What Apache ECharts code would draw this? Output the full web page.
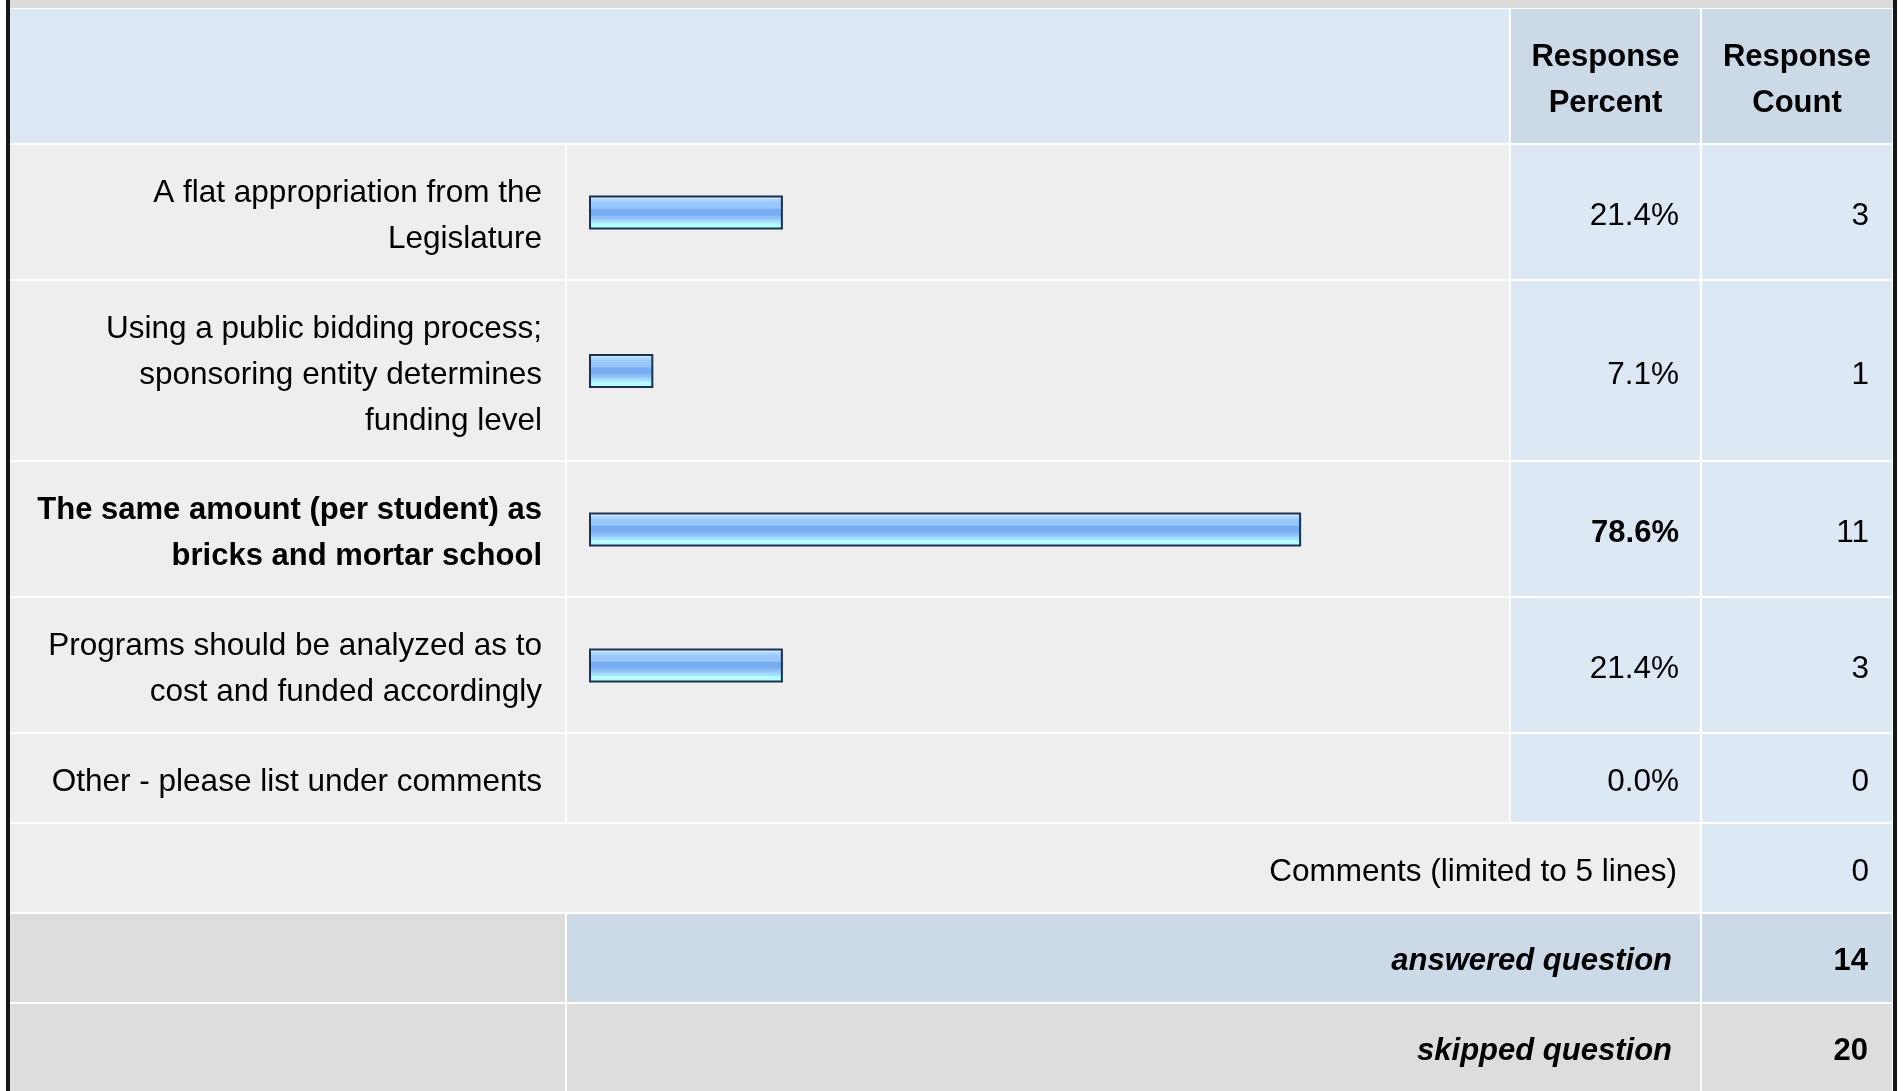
<!DOCTYPE html>
<html><head><meta charset="utf-8">
<script src="https://cdn.jsdelivr.net/npm/echarts@6/dist/echarts.min.js"></script>
<style>html,body{margin:0;padding:0;background:#fff;overflow:hidden}#c{width:1903px;height:1091px}</style>
</head><body><div id="c"></div>
<script>
// ---------- data ----------
const categories = [
  'A flat appropriation from the\nLegislature',
  'Using a public bidding process;\nsponsoring entity determines\nfunding level',
  'The same amount (per student) as\nbricks and mortar school',
  'Programs should be analyzed as to\ncost and funded accordingly',
  'Other - please list under comments'
];
const responsePercent = [21.4, 7.1, 78.6, 21.4, 0.0];
const responseCount = [3, 1, 11, 3, 0];
const highlightRow = 2;
const headerLabels = ['Response\nPercent', 'Response\nCount'];
const commentsLabel = 'Comments (limited to 5 lines)';
const commentsCount = 0;
const summaryLabels = ['answered question', 'skipped question'];
const summaryCounts = [14, 20];

// ---------- layout ----------
const FONT = '"Liberation Sans", Arial, Helvetica, sans-serif';
const FS = 31.5, FSB = 31, LH = 46;
const TY = 4.5; // text baseline nudge
const COL = {labelL: 10, labelR: 565, barL: 567, barR: 1509, pctL: 1511, pctR: 1700, cntL: 1702, cntR: 1892};
const PLOT_L = 589, PLOT_R = 1495;
const C = {head: '#dde8f5', headDark: '#ccd9e6', cell: '#eeeeee', cellBlue: '#dde8f5', grey: '#dddddd', text: '#000000'};
const ROW_H = {1: 88, 2: 134, 3: 179};
const GAP = 2;
const W = 1903, H = 1091;

const g = [];
function rect(x0, y0, x1, y1, fill) {
  g.push({type: 'rect', z: -10, silent: true, shape: {x: x0, y: y0, width: x1 - x0, height: y1 - y0}, style: {fill: fill}});
}
function text(str, x, y, align, opts) {
  g.push({type: 'text', z: 100, silent: true, style: Object.assign({
    text: str, x: x, y: y, align: align, textAlign: align, verticalAlign: 'middle', textVerticalAlign: 'middle',
    fill: C.text, fontFamily: FONT, fontSize: FS, lineHeight: LH
  }, opts || {})});
}

// borders + top band
rect(6, 0, 10, H, '#161616');
rect(1893, 0, 1897, H, '#161616');
rect(10, 0, 1893, 8, '#dcdcdc');

// header
const headTop = 9, headBot = 143;
rect(10, headTop, COL.barR, headBot, C.head);
rect(COL.pctL, headTop, COL.pctR, headBot, C.headDark);
rect(COL.cntL, headTop, COL.cntR, headBot, C.headDark);
const hc = (headTop + headBot) / 2 + TY;
text(headerLabels[0], (COL.pctL + COL.pctR) / 2, hc, 'center', {fontWeight: 'bold', fontSize: FSB});
text(headerLabels[1], (COL.cntL + COL.cntR) / 2, hc, 'center', {fontWeight: 'bold', fontSize: FSB});

const barGradient = new echarts.graphic.LinearGradient(0, 0, 0, 1, [
  {offset: 0, color: '#cfe7ff'}, {offset: 0.09, color: '#cfe7ff'},
  {offset: 0.1, color: '#b2d8ff'}, {offset: 0.18, color: '#a5d0ff'},
  {offset: 0.2, color: '#99c8fe'}, {offset: 0.38, color: '#97c6fd'},
  {offset: 0.41, color: '#76abf1'}, {offset: 0.58, color: '#78adf2'},
  {offset: 0.61, color: '#8bbdf7'}, {offset: 0.7, color: '#97c9fb'},
  {offset: 0.72, color: '#a3d8ff'}, {offset: 0.8, color: '#a9e3ff'},
  {offset: 0.82, color: '#b3fcff'}, {offset: 1, color: '#b3fdff'}
]);

const grids = [], xAxes = [], yAxes = [], series = [];
let y = 145;
categories.forEach((cat, i) => {
  const lines = cat.split('\n').length;
  const h = ROW_H[lines];
  const top = y, bot = y + h;
  rect(COL.labelL, top, COL.labelR, bot, C.cell);
  rect(COL.barL, top, COL.barR, bot, C.cell);
  rect(COL.pctL, top, COL.pctR, bot, C.cellBlue);
  rect(COL.cntL, top, COL.cntR, bot, C.cellBlue);
  const mid = (top + bot) / 2 + TY;
  const bold = i === highlightRow;
  const boldStyle = bold ? {fontWeight: 'bold', fontSize: FSB} : {};
  text(cat, 542, mid, 'right', boldStyle);
  text(responsePercent[i].toFixed(1) + '%', 1679, mid, 'right', boldStyle);
  text(String(responseCount[i]), 1869, mid, 'right');

  grids.push({left: PLOT_L, width: PLOT_R - PLOT_L, top: top + 0.5, height: h, outerBoundsMode: 'none', containLabel: false});
  xAxes.push({type: 'value', gridIndex: i, min: 0, max: 100, show: false});
  yAxes.push({
    type: 'category', gridIndex: i, data: [cat],
    axisLine: {show: false}, axisTick: {show: false}, splitLine: {show: false},
    axisLabel: {show: false}
  });
  const v = responsePercent[i];
  series.push({
    type: 'bar', xAxisIndex: i, yAxisIndex: i, barWidth: 34, silent: true, animation: false,
    itemStyle: {color: barGradient, borderColor: '#1c3152', borderWidth: 2},
    data: [v > 0 ? {value: v} : {value: v, itemStyle: {borderWidth: 0, opacity: 0}}]
  });
  y = bot + GAP;
});

// comments row
{
  const top = y, bot = y + 88;
  rect(COL.labelL, top, COL.pctR, bot, C.cell);
  rect(COL.cntL, top, COL.cntR, bot, C.cellBlue);
  const mid = (top + bot) / 2 + TY;
  text(commentsLabel, 1677, mid, 'right');
  text(String(commentsCount), 1869, mid, 'right');
  y = bot + GAP;
}
// summary rows
summaryLabels.forEach((lab, k) => {
  const top = y, bot = y + 88;
  const midFill = k === 0 ? C.headDark : C.grey;
  rect(COL.labelL, top, COL.labelR, bot, C.grey);
  rect(COL.barL, top, COL.pctR, bot, midFill);
  rect(COL.cntL, top, COL.cntR, bot, midFill);
  const mid = (top + bot) / 2 + TY - 1;
  text(lab, 1672, mid, 'right', {fontWeight: 'bold', fontStyle: 'italic', fontSize: FSB});
  text(String(summaryCounts[k]), 1868, mid, 'right', {fontWeight: 'bold', fontSize: FSB});
  y = bot + GAP;
});

const chart = echarts.init(document.getElementById('c'), null, {renderer: 'canvas'});
chart.setOption({
  animation: false,
  backgroundColor: '#ffffff',
  grid: grids, xAxis: xAxes, yAxis: yAxes, series: series,
  graphic: {elements: g}
});
</script></body></html>
